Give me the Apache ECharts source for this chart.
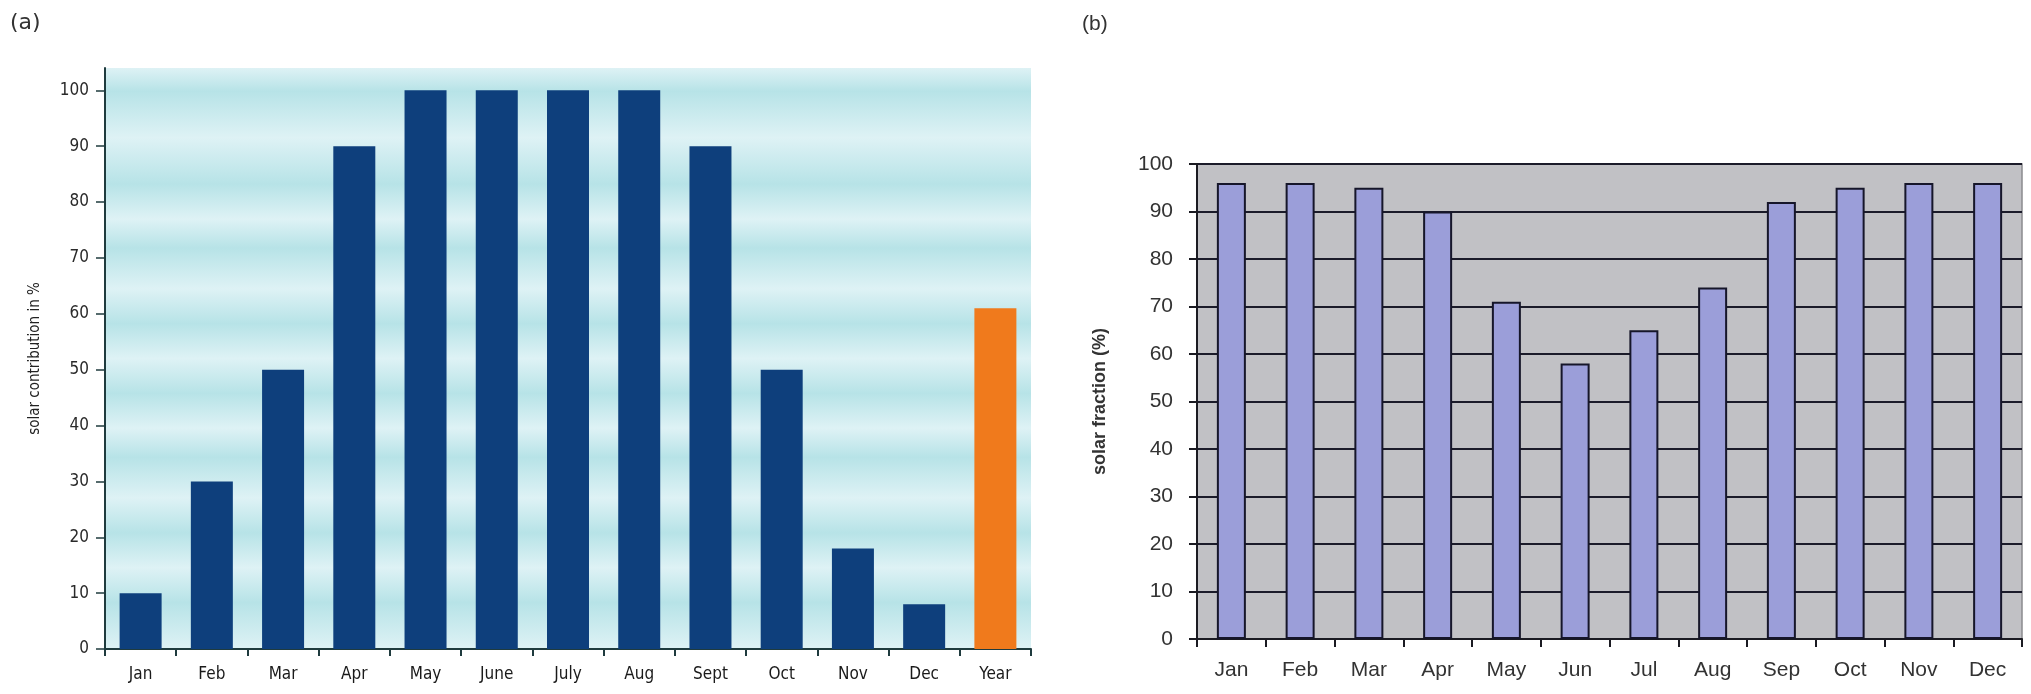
<!DOCTYPE html>
<html>
<head>
<meta charset="utf-8">
<script src="https://cdn.jsdelivr.net/npm/echarts@6/dist/echarts.min.js"></script>
<style>html,body{margin:0;padding:0;background:#fff}#c{width:2031px;height:694px}</style>
</head>
<body>
<div id="c"></div>
<script>
// Chart (a)
const catsA = ['Jan','Feb','Mar','Apr','May','June','July','Aug','Sept','Oct','Nov','Dec','Year'];
const valsA = [10,30,50,90,100,100,100,100,90,50,18,8,61];
const ticksA = [0,10,20,30,40,50,60,70,80,90,100];
// Chart (b)
const catsB = ['Jan','Feb','Mar','Apr','May','Jun','Jul','Aug','Sep','Oct','Nov','Dec'];
const valsB = [96,96,95,90,71,58,65,74,92,95,96,96];

const fontA = "'Liberation Sans Narrow','DejaVu Sans Condensed','Open Sans',sans-serif";
const fontB = "'Liberation Sans',Arial,sans-serif";

const bandStops = [];
const dark = '#b7e3e7', light = '#def2f5';
[0,0.04,0.12,0.2,0.26,0.31,0.38,0.44,0.5,0.56,0.62,0.67,0.74,0.8,0.86,0.92,1].forEach((o,i)=>{
  bandStops.push({offset:o, color: i%2===0 ? light : dark});
});

const chart = echarts.init(document.getElementById('c'), null, {renderer:'canvas'});
chart.setOption({
  animation:false,
  backgroundColor:'#fff',
  graphic:[
    {type:'text', left:10, top:12, style:{text:'(a)', font:"22px 'DejaVu Sans',sans-serif", fill:'#333'}},
    {type:'text', left:1082, top:14, style:{text:'(b)', font:"21px 'Liberation Sans',sans-serif", fill:'#333'}}
  ],
  grid:[
    {left:105, right:1000, top:68, bottom:45, show:true, borderWidth:0,
     backgroundColor:{type:'linear',x:0,y:0,x2:0,y2:1,colorStops:bandStops}},
    {left:1197, right:9, top:164, bottom:55, show:true, borderWidth:1.5, borderColor:'#8a8a8e',
     backgroundColor:'#c1c1c5'}
  ],
  xAxis:[
    {type:'category', gridIndex:0, data:catsA, boundaryGap:true,
     axisLine:{lineStyle:{color:'#1f3b3e', width:2}},
     axisTick:{show:true, length:7, interval:0, lineStyle:{color:'#1f3b3e', width:2}},
     axisLabel:{color:'#1a1a1a', fontSize:17, fontFamily:fontA, margin:17, interval:0}},
    {type:'category', gridIndex:1, data:catsB, boundaryGap:true,
     axisLine:{lineStyle:{color:'#1b1b22', width:2}},
     axisTick:{show:true, length:8, interval:0, lineStyle:{color:'#1b1b22', width:2}},
     axisLabel:{color:'#333', fontSize:21, fontFamily:fontB, margin:21, interval:0}}
  ],
  yAxis:[
    {type:'value', gridIndex:0, min:0, max:104,
     name:'solar contribution in %', nameLocation:'middle', nameGap:62, nameRotate:90,
     nameTextStyle:{color:'#222', fontSize:15, fontFamily:fontA},
     axisLine:{show:true, lineStyle:{color:'#1f3b3e', width:2}},
     axisTick:{show:true, length:9, customValues:ticksA, lineStyle:{color:'#1f3b3e', width:1.5}},
     axisLabel:{color:'#2a2a2a', fontSize:17, fontFamily:fontA, margin:16, customValues:ticksA},
     splitLine:{show:false}},
    {type:'value', gridIndex:1, min:0, max:100, interval:10,
     name:'solar fraction (%)', nameLocation:'middle', nameGap:88, nameRotate:90,
     nameTextStyle:{color:'#333', fontSize:18, fontWeight:'bold', fontFamily:fontB},
     axisLine:{show:true, lineStyle:{color:'#1b1b22', width:2}},
     axisTick:{show:true, length:8, lineStyle:{color:'#1b1b22', width:2}},
     axisLabel:{color:'#333', fontSize:21, fontFamily:fontB, margin:24},
     splitLine:{show:true, lineStyle:{color:'#1b1b2a', width:2}}}
  ],
  series:[
    {type:'bar', xAxisIndex:0, yAxisIndex:0, barWidth:42,
     data: valsA.map((v,i)=>({value:v, itemStyle:{color: catsA[i]==='Year' ? '#f07a1c' : '#0e3f7c'}}))},
    {type:'bar', xAxisIndex:1, yAxisIndex:1, barWidth:29, data: valsB,
     itemStyle:{color:'#9b9ed9', borderColor:'#16162a', borderWidth:2}}
  ]
});
</script>
</body>
</html>
